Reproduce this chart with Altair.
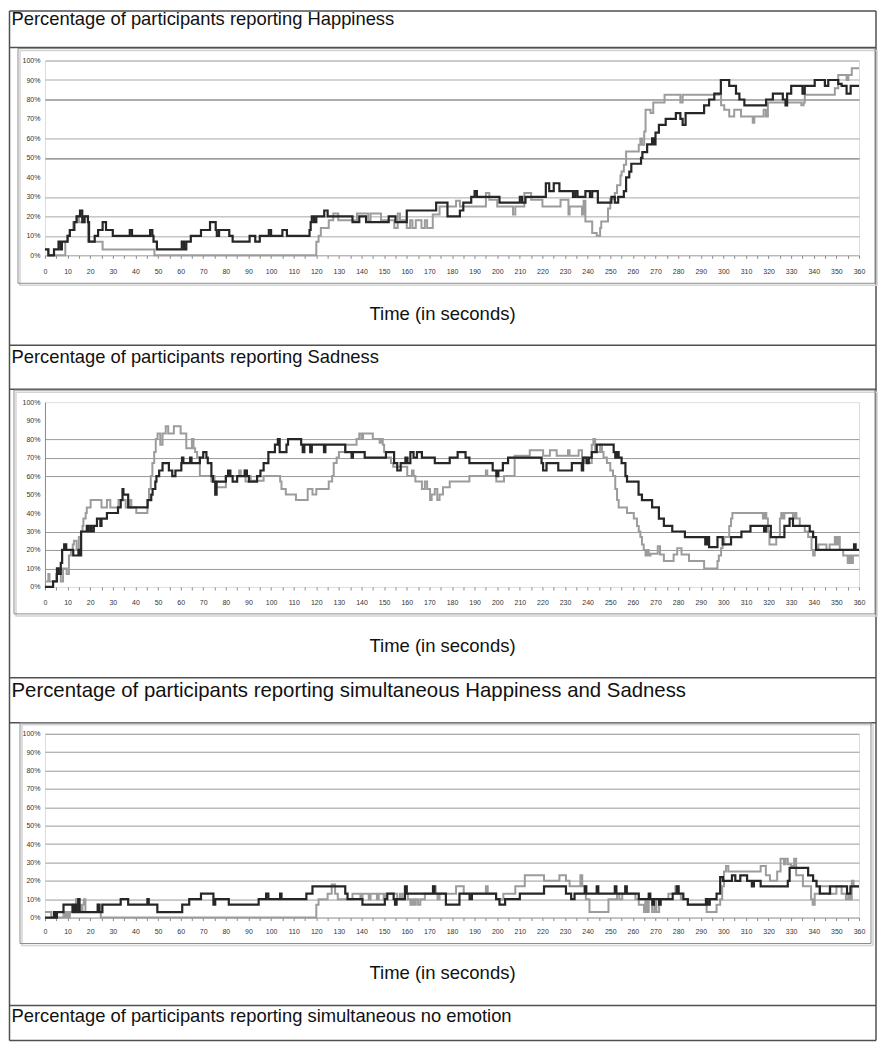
import altair as alt
import pandas as pd

# ---------------- data (time in s, percent of participants), step change points ----------------
HAP_DARK_T = [0, 1.5, 4, 6, 7, 7.5, 10, 11, 13, 14, 15.5, 16.5, 17.5, 19, 19.5, 22, 23.5, 25.5, 27, 30,
              37.5, 38.5, 46.5, 47.5, 48, 49.5, 60.5, 61.5, 62.5, 64.5, 69, 73, 75.5, 76, 77, 81.5, 83,
              90.5, 93, 95, 99, 100, 105, 107, 117, 117.5, 118, 119, 120, 123.5, 125, 136, 139, 142,
              152, 155, 160, 173, 178, 183.5, 185, 188.5, 190, 191, 201, 210, 211, 212.5, 221.5, 223,
              225, 227.5, 233.5, 234.5, 235.5, 239, 241, 242, 244.5, 250.5, 252, 253.5, 256, 257,
              258.4, 259.3, 263.6, 264.2, 266.3, 268.5, 269.2, 270, 271.5, 274.5, 279, 281, 282, 283.3,
              291.5, 293.7, 296, 298.9, 302.6, 305.6, 307.1, 309.3, 318.9, 321.9, 326.3, 327.5, 328.2,
              330, 335, 336, 340.4, 344.9, 346.4, 350.8, 352.3, 354.5, 356.3, 360]
HAP_DARK_V = [3, 0, 3, 7, 3, 7, 10, 13, 17, 20, 23, 17, 20, 17, 7, 10, 13, 17, 13, 10,
              13, 10, 13, 10, 7, 3, 7, 3, 7, 10, 13, 17, 13, 10, 13, 10, 7,
              10, 7, 10, 13, 10, 13, 10, 13, 17, 20, 17, 20, 23, 20, 17, 20, 17,
              20, 17, 23, 27, 20, 23, 27, 30, 33, 30, 27, 30, 27, 30, 37, 33,
              37, 33, 30, 33, 30, 33, 30, 33, 27, 30, 27, 30, 33, 40,
              43, 47, 50, 53, 57, 60, 57, 63, 67, 70, 73, 70, 67, 73,
              77, 80, 83, 90, 87, 83, 80, 77, 80, 83, 80, 77, 83,
              87, 83, 87, 90, 87, 90, 88, 87, 83, 87, 87]

HAP_GRAY_T = [0, 1.5, 9, 10, 11, 12.5, 14, 15, 17.5, 19, 25.5, 48.4, 120, 121, 122, 125.5, 127.5,
              129.7, 138, 143, 144, 148.6, 154.5, 156, 157, 160, 161.5, 162.5, 164, 166.5, 168, 169,
              171.5, 174.5, 181.8, 183.5, 195, 196.5, 200, 207, 208, 212, 215, 220, 228, 231.5, 232,
              237.5, 238.2, 239, 242, 244, 245.5, 246, 249, 250, 252, 253, 254.5, 255, 256, 257,
              262.6, 263.3, 264, 265, 265.6, 267.8, 269, 274, 281, 282, 299, 300.4, 302.6, 304.8,
              307.8, 313, 313.7, 317.8, 318.8, 319.7, 334.5, 335.5, 336, 349.3, 350.8, 354.5, 355.3,
              356.8, 360]
HAP_GRAY_V = [3, 0, 7, 10, 13, 17, 20, 17, 20, 7, 3, 0, 7, 10, 14, 18, 21.5,
              18, 21.5, 18, 21.5, 18, 14, 21.5, 18, 14, 18, 14, 18, 14, 18, 14,
              21, 25, 28, 25, 32, 28.5, 25, 21, 25, 32, 28.5, 25, 28.5, 21, 25,
              21, 28, 17.4, 11.5, 10, 14, 17.4, 24, 29, 32, 36, 41, 43, 46.5, 53.3,
              56.7, 60, 56.7, 63.6, 74.7, 73, 78.5, 82.4, 78.5, 82.4, 77, 74.7, 71.3, 74.7,
              71.3, 68, 71.3, 74.7, 71.3, 78.5, 77, 78.5, 82.4, 85.8, 92.6, 90, 92.6,
              96, 96]

SAD_DARK_T = [0, 3.6, 5.3, 6, 7, 7.6, 8.5, 9.4, 12.5, 14.8, 15.5, 16, 18.5, 19, 20, 20.6, 21.6, 23,
              24.5, 25, 27.4, 32.3, 33.5, 34.3, 34.7, 36.8, 45.4, 47, 47.6, 48.8, 49.3, 50.5, 52,
              54.8, 56.3, 57.7, 60.3, 60.6, 61.2, 64.2, 64.8, 68.5, 70, 71.4, 72, 73.6, 74.3, 75.3,
              75.9, 80, 81, 82, 83, 85, 88.5, 89.3, 90.2, 93.8, 95.3, 96.7, 98.8, 101.7, 103, 103.8,
              106.8, 107.5, 113.3, 114, 114.7, 117.3, 118, 123.4, 124, 132.8, 135.6, 136.2, 141.4,
              150.8, 154.4, 155.8, 157.3, 159.4, 160.3, 161.6, 163, 164.5, 166.7, 172.4, 179, 182.5,
              186, 187.7, 198, 199.6, 200.5, 202.5, 204.8, 219.6, 220.3, 221.8, 227, 233, 237.4, 238,
              239.5, 240.5, 241.8, 244, 251.5, 252.2, 253, 253.7, 255, 256.7, 257.4, 262.5, 264,
              268.5, 271.5, 273.7, 277.4, 283, 292, 292.8, 293.7, 297.4, 299.7, 303.4, 308, 312, 318,
              318.8, 321, 327, 329.3, 330.8, 338.2, 339.7, 341, 357.8, 358.5, 360]
SAD_DARK_V = [0, 3, 10, 7, 13, 20, 23, 20, 17, 20, 17, 30, 33, 30, 33, 30, 33, 37,
              33, 37, 40, 43, 47, 53, 50, 43, 47, 50, 53, 57, 60, 63, 67,
              63, 60, 63, 67, 70, 67, 70, 67, 70, 73, 70, 67, 60, 57, 50,
              57, 60, 63, 60, 57, 60, 63, 60, 57, 60, 63, 67, 73, 77, 80, 73,
              77, 80, 77, 73, 77, 73, 77, 73, 77, 73, 70, 73, 70,
              73, 67, 63, 67, 70, 67, 73, 70, 73, 70, 67, 70, 73,
              70, 67, 63, 60, 63, 67, 70, 67, 63, 67, 63, 67, 63, 70,
              67, 70, 73, 77, 73, 70, 73, 70, 67, 60, 57, 50, 47,
              43, 37, 33, 30, 27, 23, 27, 21.5, 27, 23, 27, 30, 33, 30,
              33, 27, 33, 37, 33, 30, 27, 20, 23, 20, 20]

SAD_GRAY_T = [0, 1.5, 2, 5, 7, 8, 9.6, 10.6, 11.5, 12.3, 12.8, 14, 15, 15.9, 16.6, 17, 18, 18.5,
              20.2, 25, 27.4, 28.9, 32.5, 35.7, 37.3, 38.2, 40.4, 45.3, 46, 46.8, 47.5, 48.3, 49,
              49.8, 51, 52, 53.4, 54.5, 57, 60, 62.5, 65, 65.7, 66.4, 67.3, 68.5, 73.6, 74.3, 75,
              75.8, 80, 85.9, 86.6, 88, 88.7, 90.2, 91, 96.7, 104, 104.6, 106.5, 111, 116.2, 118.3,
              120, 125.5, 127, 127.7, 129, 130, 132.8, 137.8, 139, 140, 140.7, 145, 148, 148.6,
              149.4, 150, 150.8, 153, 154, 160.2, 162.3, 163, 163.8, 166.7, 168, 169, 170.3, 171,
              172.4, 173.5, 174.5, 176, 179, 187.7, 195, 195.6, 199.6, 203, 207.7, 214.4, 220.3,
              223.3, 226.3, 231.3, 232, 236, 237.5, 238.5, 240, 241.8, 242.5, 243.3, 245.5, 246.3,
              247, 248.5, 250, 251.2, 252.2, 253, 253.7, 257.4, 260.4, 261.8, 262.6, 263.3, 264,
              264.8, 265.6, 266.3, 267, 267.8, 271, 272, 273.7, 278, 279.6, 281.5, 284.8, 291.5,
              297.4, 298, 299, 299.7, 300.4, 302.6, 303.4, 304, 317.5, 318.2, 319, 319.7, 320.4,
              323.4, 325, 325.6, 326.3, 327, 330.8, 331.5, 332.3, 333.8, 336, 337.5, 339, 339.7,
              340.4, 342, 345.6, 347, 349.3, 350, 350.8, 351.5, 353, 355, 355.7, 356.5, 357.3, 360]
SAD_GRAY_V = [3, 7, 3, 7, 3, 10, 7, 17, 20, 23, 25, 20, 27, 30, 33, 37, 40, 43,
              47, 43, 47, 43, 47, 43, 47, 43, 40, 47, 53, 60, 67, 73, 80,
              83, 77, 83, 87, 83, 87, 83, 75, 80, 75, 73, 70, 60, 57, 60, 57,
              54, 60, 63, 60, 63, 57, 60, 57.5, 60, 57, 53, 50, 47, 53, 50,
              53, 57, 60, 67, 70, 73, 77, 80, 83, 80, 83, 80, 78, 80,
              77, 73, 70, 67, 65, 60, 63, 60, 57, 53, 57, 53, 47, 50,
              53, 47, 50, 54, 57, 60, 63, 60, 57, 60, 71, 74, 71,
              74, 71, 74, 71, 74, 67, 70, 67, 77, 80, 73, 77, 73,
              70, 67, 63, 60, 53, 47, 43, 40, 37, 33, 30, 27, 23,
              20, 17, 20, 17, 18, 22, 17.5, 14, 17.5, 21, 17.5, 14, 10,
              14, 17, 21, 23, 27, 33, 37, 40, 37, 40, 37, 30, 23,
              27, 37, 40, 37, 40, 37, 40, 37, 33, 30, 27, 20, 17,
              20, 23, 20, 23, 27, 23, 27, 20, 17, 13, 17, 13, 17, 17]

MIX_DARK_T = [0, 4, 4.8, 5.3, 8.2, 12.2, 13, 13.7, 14.7, 15.3, 23.3, 24, 25.4, 33.5, 36.8, 45.3,
              45.9, 49.7, 60.7, 63.8, 69, 74.5, 75.3, 81.3, 94.5, 97.8, 98.8, 104, 104.6, 115.6,
              118.3, 132.8, 133.8, 140.4, 150.3, 151.4, 154.2, 154.8, 155.5, 159.2, 160, 171.6,
              172.3, 177.3, 183.3, 187.8, 188.8, 199.5, 201, 203.5, 210, 220.7, 230.4, 232.7, 234.2,
              238.7, 239.4, 244, 244.7, 252, 252.7, 256.6, 257.3, 262.6, 267, 267.7, 268.6, 269.3,
              271.6, 272.3, 277.6, 279.4, 280.2, 282.3, 284.3, 292.3, 293, 294, 297, 298.6, 299.8,
              303.8, 305.3, 307.5, 310.5, 312.6, 313.5, 316.5, 328.5, 329.3, 337.5, 339.7, 341.2,
              342.7, 347.2, 354.7, 356.2, 360]
MIX_DARK_V = [0, 3, 0, 3, 7, 3, 7, 3, 10, 3, 7, 3, 7, 10, 7, 10,
              7, 3, 7, 10, 13, 7, 10, 7, 10, 13, 10, 13, 10, 13,
              17, 13, 10, 7, 10, 13, 10, 7, 10, 17, 13, 17,
              13, 7, 13, 10, 13, 10, 7, 10, 13, 17, 13, 10, 13,
              17, 13, 17, 13, 17, 13, 17, 13, 10, 13, 10, 7, 10,
              7, 10, 13, 17, 13, 10, 7, 10, 7, 10, 13, 22, 20,
              23, 20, 23, 20, 17, 20, 17, 20, 27, 23, 20, 17,
              13, 17, 13, 17, 17]

MIX_GRAY_T = [0, 2.8, 8.2, 9, 9.8, 10.4, 11, 12.2, 13, 13.7, 14.4, 15.2, 15.9, 16.6, 17.2, 17.9, 24,
              24.7, 120, 121, 125, 126.8, 128.3, 129.5, 136, 139.5, 140.4, 143.2, 144, 146.8, 147.6,
              149.8, 150.7, 155.8, 157, 158, 159, 160.5, 161.6, 162.5, 163.2, 164, 165, 166, 168,
              171.6, 172.8, 173.6, 174.5, 181.8, 185.2, 195, 195.8, 199.5, 202.7, 208, 212.2, 220.7,
              227.5, 230.4, 232, 236.8, 237.6, 239.2, 240.8, 249.2, 253, 254, 255.3, 261.1, 262.6,
              264.9, 265.5, 266.2, 267, 268.5, 269.5, 270.4, 271.6, 275.7, 278.8, 280.2, 281.2, 284.3,
              292.6, 297, 298.6, 299.5, 300.3, 301.2, 302.2, 316.5, 318.8, 320.6, 323.8, 325.3,
              326.8, 327.5, 328.5, 330, 331.3, 332.2, 335.2, 338.8, 339.5, 340.4, 342.5, 347, 350,
              352.3, 354.2, 355.2, 356, 356.8, 357.6, 360]
MIX_GRAY_V = [3, 0, 3, 0, 3, 0, 3, 7, 3, 10, 3, 7, 3, 7, 10, 3, 7,
              0, 7, 10, 13, 18, 13, 10, 13, 10, 13, 10, 13, 10, 13,
              10, 13, 10, 13, 10, 13, 10, 7, 10, 7, 10, 7, 10, 13,
              17, 13, 10, 13, 17, 13, 17, 13, 10, 13, 17, 23, 20,
              23, 20, 17, 23, 17, 10, 3, 10, 13, 10, 13, 10, 7,
              3, 10, 3, 10, 3, 10, 3, 10, 13, 17, 13, 10, 7,
              3, 7, 10, 17, 25, 28, 25, 28, 23, 20, 25, 32,
              29, 32, 29, 28, 32, 23, 17, 10, 7, 13, 17, 13, 17,
              13, 10, 13, 10, 20, 17, 17]

TITLES = ["Percentage of participants reporting Happiness",
          "Percentage of participants reporting Sadness",
          "Percentage of participants reporting simultaneous Happiness and Sadness",
          "Percentage of participants reporting simultaneous no emotion"]
X_TITLE = "Time (in seconds)"
X_TICKS = list(range(0, 361, 5))
Y_TICKS = list(range(0, 101, 10))

DARK = "#262626"
GRAY = "#9c9c9c"
FONT = "Liberation Sans"

# ---------------- layout (page pixels) ----------------
OX, OY = 45, 59            # page position of panel-1 plot origin
W = 815
HEIGHTS = [195, 185, 184]
GAP = 147
EDGE = 9.5                 # outer table border (its stroke bound lands on the page margin)


def px(x):
    return x - OX


def py(y):
    return y - OY


ONE = pd.DataFrame({"k": [0]})


def series_df(t, v):
    return pd.DataFrame({"t": t, "v": v})


def panel(dark, gray, height, grid_color, grid_opacity, y_domain, x_label_pad, decorations=None):
    x_enc = alt.X("t:Q", scale=alt.Scale(domain=[0, 360], nice=False, zero=False),
                  axis=alt.Axis(values=X_TICKS, labelExpr="datum.value % 10 == 0 ? datum.label : ''",
                                grid=False, domain=False, ticks=True, tickSize=3, tickColor="#8a8a8a",
                                labelFont=FONT, labelFontSize=7, labelColor="#333",
                                labelPadding=x_label_pad, labelFlush=False, labelOverlap=False,
                                title=None))
    y_enc = alt.Y("v:Q", scale=alt.Scale(domain=[0, 100], nice=False),
                  axis=alt.Axis(values=Y_TICKS, labelExpr="datum.value + '%'", grid=True,
                                gridColor=grid_color, gridOpacity=grid_opacity, gridWidth=1,
                                ticks=False, domain=y_domain, domainColor="#8a8a8a",
                                labelFont=FONT, labelFontSize=7, labelColor="#333",
                                labelPadding=5, title=None))
    g = alt.Chart(series_df(*gray)).mark_line(interpolate="step-after", strokeWidth=2,
                                               color=GRAY).encode(x=x_enc, y=y_enc)
    d = alt.Chart(series_df(*dark)).mark_line(interpolate="step-after", strokeWidth=2.2,
                                               color=DARK).encode(x=x_enc, y=y_enc)
    layers = (decorations or []) + [g, d]
    return alt.layer(*layers).properties(width=W, height=height)


def hline(y, x1=EDGE, x2=877, color="#505050", w=1.5):
    return alt.Chart(ONE).mark_rule(color=color, strokeWidth=w).encode(
        x=alt.value(px(x1)), x2=alt.value(px(x2)), y=alt.value(py(y)))


def vline(x, y1=EDGE, y2=1040, color="#505050", w=1.5):
    return alt.Chart(ONE).mark_rule(color=color, strokeWidth=w).encode(
        x=alt.value(px(x)), y=alt.value(py(y1)), y2=alt.value(py(y2)))


def frame(x1, y1, x2, y2):
    shadow = alt.Chart(ONE).mark_rect(fillOpacity=0, stroke="#d4d4d4", strokeWidth=1.5).encode(
        x=alt.value(px(x1) + 2), x2=alt.value(px(x2) + 2),
        y=alt.value(py(y1) + 2), y2=alt.value(py(y2) + 2))
    box = alt.Chart(ONE).mark_rect(fillOpacity=0, stroke="#8c8c8c", strokeWidth=1).encode(
        x=alt.value(px(x1)), x2=alt.value(px(x2)), y=alt.value(py(y1)), y2=alt.value(py(y2)))
    return [shadow, box]


def label(text, x, y, size=18.4, align="left", baseline="alphabetic"):
    return alt.Chart(ONE).mark_text(font=FONT, fontSize=size, color="#111", align=align,
                                    baseline=baseline).encode(
        x=alt.value(px(x)), y=alt.value(py(y)), text=alt.value(text))


deco = []
for yy in [EDGE, 46, 344, 388, 677, 722, 1005, 1040]:
    deco.append(hline(yy))
deco += [vline(EDGE), vline(877)]
deco += frame(18, 47, 876, 282)
deco += frame(14, 389, 876, 613)
deco += frame(20, 722, 872, 943)
deco += [label(TITLES[0], 11.5, 23), label(TITLES[1], 11.5, 361.5),
         label(TITLES[2], 11.5, 696, size=20.4), label(TITLES[3], 11.5, 1022)]
deco += [label(X_TITLE, 443, 313, size=18.5, align="center", baseline="middle"),
         label(X_TITLE, 443, 645, size=18.5, align="center", baseline="middle"),
         label(X_TITLE, 443, 973, size=18.5, align="center", baseline="middle")]

grid1_color = {"condition": {"test": "datum.value == 50 || datum.value == 80", "value": "#5a5a5a"},
               "value": "#a8a8a8"}
grid1_op = {"condition": {"test": "datum.value == 40 || datum.value == 70", "value": 0}, "value": 1}
grid2_op = {"condition": {"test": "datum.value == 0 || datum.value == 40 || datum.value == 50 || datum.value >= 90",
                          "value": 0}, "value": 1}

p1 = panel((HAP_DARK_T, HAP_DARK_V), (HAP_GRAY_T, HAP_GRAY_V), HEIGHTS[0], grid1_color, grid1_op,
           False, 9.5, decorations=deco)
p2 = panel((SAD_DARK_T, SAD_DARK_V), (SAD_GRAY_T, SAD_GRAY_V), HEIGHTS[1], "#9a9a9a", grid2_op,
           True, 8.5)
p3 = panel((MIX_DARK_T, MIX_DARK_V), (MIX_GRAY_T, MIX_GRAY_V), HEIGHTS[2], "#9a9a9a", 1,
           False, 6.5)

chart = alt.vconcat(p1, p2, p3, spacing=GAP, bounds="flush", padding=0).configure_view(
    strokeWidth=0).configure(background="white")

chart.save("out.html", embed_options={"renderer": "svg", "actions": False})
